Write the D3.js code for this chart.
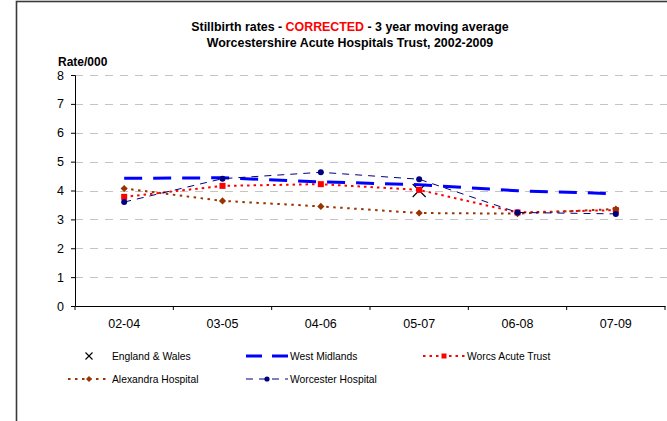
<!DOCTYPE html>
<html>
<head>
<meta charset="utf-8">
<script src="https://cdn.jsdelivr.net/npm/d3@7"></script>
<style>
  body { margin: 0; background: #fff; }
  svg { display: block; font-family: "Liberation Sans", Arial, sans-serif; }
</style>
</head>
<body>
<svg id="chart" width="667" height="421"></svg>
<script>
// data
const categories = ["02-04", "03-05", "04-06", "05-07", "06-08", "07-09"];
const englandWales = [null, null, null, 4.0, null, null];
const westMidlands = [4.42, 4.44, 4.30, 4.20, 3.99, 3.89];
const worcsAcute = [3.78, 4.16, 4.22, 4.02, 3.24, 3.32];
const alexandra = [4.07, 3.64, 3.45, 3.22, 3.20, 3.36];
const worcester = [3.60, 4.41, 4.63, 4.39, 3.24, 3.19];
const yTicks = [0, 1, 2, 3, 4, 5, 6, 7, 8];

const svg = d3.select('#chart')
const W = 667, H = 421
const margin = { left: 75, right: 2, top: 75, bottom: 115 }

// outer frame (runs off the right/bottom edges like the source)
svg.append('rect')
  .attr('x', 16.5).attr('y', 1.5)
  .attr('width', W + 10).attr('height', H + 10)
  .attr('fill', 'none').attr('stroke', '#3a3a3a').attr('stroke-width', 1.6)

const xScale = d3.scaleBand()
  .domain(categories)
  .range([margin.left, W - margin.right])

const yScale = d3.scaleLinear()
  .domain([0, 8])
  .range([H - margin.bottom, margin.top])

// title
const title = svg.append('text')
  .attr('x', 350).attr('y', 31)
  .attr('text-anchor', 'middle')
  .style('font-size', '12.4px').style('font-weight', 'bold')
title.append('tspan').text('Stillbirth rates - ')
title.append('tspan').attr('fill', '#ff0000').text('CORRECTED')
title.append('tspan').text(' - 3 year moving average')
svg.append('text')
  .attr('x', 350).attr('y', 47)
  .attr('text-anchor', 'middle')
  .style('font-size', '12.4px').style('font-weight', 'bold')
  .text('Worcestershire Acute Hospitals Trust, 2002-2009')

svg.append('text')
  .attr('x', 58).attr('y', 65.5)
  .style('font-size', '12px').style('font-weight', 'bold')
  .text('Rate/000')

// gridlines
svg.append('g')
  .selectAll('line')
  .data(yTicks.filter(d => d > 0))
  .join('line')
  .attr('x1', margin.left).attr('x2', W)
  .attr('y1', d => Math.round(yScale(d)) + 0.5)
  .attr('y2', d => Math.round(yScale(d)) + 0.5)
  .attr('stroke', '#c4c4c4').attr('stroke-width', 1)
  .attr('stroke-dasharray', '8,7')

// y axis
const yAxis = d3.axisLeft(yScale).tickValues(yTicks).tickSize(4).tickPadding(7)
const yAxisGroup = svg.append('g')
  .attr('transform', `translate(${margin.left}, 0)`)
  .call(yAxis)
yAxisGroup.select('.domain').attr('stroke', '#000')
yAxisGroup.selectAll('text').style('font-size', '12.5px').attr('fill', '#000')

// x axis: labels centred in bands, ticks on band boundaries
const xAxis = d3.axisBottom(xScale).tickSize(0).tickPadding(13)
const xAxisGroup = svg.append('g')
  .attr('transform', `translate(0, ${yScale(0)})`)
  .call(xAxis)
xAxisGroup.select('.domain').attr('stroke', '#000')
xAxisGroup.selectAll('text').style('font-size', '12.5px').attr('fill', '#000')
xAxisGroup.selectAll('.bound')
  .data(categories.map(c => xScale(c)).concat([xScale.range()[1]]))
  .join('line')
  .attr('class', 'bound')
  .attr('x1', d => d).attr('x2', d => d)
  .attr('y1', 0).attr('y2', 4)
  .attr('stroke', '#000')

const cx = (d, i) => xScale(categories[i]) + xScale.bandwidth() / 2

const series = [
  { name: 'England & Wales', values: englandWales, color: '#000', width: 0, dash: null, marker: 'x' },
  { name: 'West Midlands', values: westMidlands, color: '#0000ff', width: 3, dash: '18,11', marker: null },
  { name: 'Worcs Acute Trust', values: worcsAcute, color: '#ff0000', width: 2, dash: '2.5,4', marker: 'square' },
  { name: 'Alexandra Hospital', values: alexandra, color: '#993300', width: 2, dash: '2.5,4.5', marker: 'diamond' },
  { name: 'Worcester Hospital', values: worcester, color: '#000080', width: 1, dash: '7,6', marker: 'circle' }
]

const line = d3.line()
  .defined(d => d != null)
  .x(cx)
  .y(d => yScale(d))

function drawMarker(g, type, color, x, y, big) {
  if (type === 'square') {
    const s = big ? 6 : 5
    g.append('rect').attr('x', x - s / 2).attr('y', y - s / 2)
      .attr('width', s).attr('height', s).attr('fill', color)
  } else if (type === 'diamond') {
    const r = big ? 3.6 : 3
    g.append('path')
      .attr('d', `M${x},${y - r}L${x + r},${y}L${x},${y + r}L${x - r},${y}Z`)
      .attr('fill', color)
  } else if (type === 'circle') {
    g.append('circle').attr('cx', x).attr('cy', y).attr('r', big ? 3 : 2.6).attr('fill', color)
  } else if (type === 'x') {
    const s = big ? 6.5 : 3.5
    g.append('path')
      .attr('d', `M${x - s},${y - s}L${x + s},${y + s}M${x - s},${y + s}L${x + s},${y - s}`)
      .attr('stroke', color).attr('stroke-width', 1.1).attr('fill', 'none')
  }
}

const plot = svg.append('g')
series.forEach(s => {
  if (s.width > 0) {
    plot.append('path')
      .datum(s.values)
      .attr('d', line)
      .attr('fill', 'none')
      .attr('stroke', s.color)
      .attr('stroke-width', s.width)
      .attr('stroke-dasharray', s.dash)
  }
  if (s.marker) {
    s.values.forEach((v, i) => {
      if (v != null) drawMarker(plot, s.marker, s.color, cx(v, i), yScale(v), true)
    })
  }
})

// legend
const legendPos = [
  { x: 68, y: 356 }, { x: 246, y: 356 }, { x: 423, y: 356 },
  { x: 68, y: 379 }, { x: 246, y: 379 }
]
const legend = svg.append('g')
series.forEach((s, i) => {
  const p = legendPos[i]
  const lw = 42
  if (s.width > 0) {
    legend.append('line')
      .attr('x1', p.x).attr('x2', p.x + lw)
      .attr('y1', p.y).attr('y2', p.y)
      .attr('stroke', s.color)
      .attr('stroke-width', s.width)
      .attr('stroke-dasharray', s.name === 'West Midlands' ? '16,10' : s.dash)
  }
  if (s.marker) drawMarker(legend, s.marker, s.color, p.x + 21, p.y, false)
  legend.append('text')
    .attr('x', p.x + 44).attr('y', p.y + 3.7)
    .style('font-size', '10.3px')
    .attr('fill', '#000')
    .text(s.name)
})
</script>
</body>
</html>
